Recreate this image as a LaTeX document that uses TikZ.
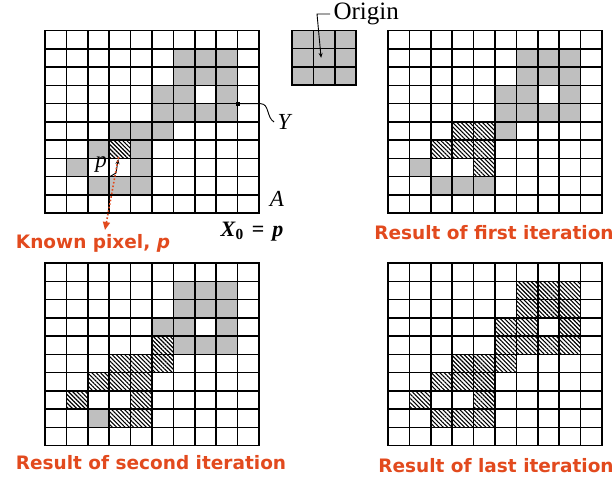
\documentclass[tikz,border=0pt]{standalone}
\usepackage{fontspec}
\setmainfont{Liberation Serif}
\newfontfamily\capfont{DejaVu Sans}
\usetikzlibrary{arrows.meta,patterns.meta}

\definecolor{capred}{RGB}{226,74,30}

% cell size in pixels
\newcommand{\cw}{21.4}
\newcommand{\ch}{18.25}
% the pixels of Y, as column/row
\newcommand{\yset}{6/1,7/1,8/1,6/2,7/2,8/2,5/3,6/3,8/3,5/4,6/4,7/4,8/4,3/5,4/5,5/5,2/6,3/6,4/6,1/7,4/7,2/8,3/8,4/8}
% 10 x 10 lattice of lines
\newcommand{\latticelines}{%
  \foreach \i in {0,...,10} {
    \draw[gridline] (\i*\cw,0) -- (\i*\cw,10*\ch);
    \draw[gridline] (0,\i*\ch) -- (10*\cw,\i*\ch);
  }}

\tikzset{
  gridline/.style={black, line width=1.5pt, line cap=rect},
  setcell/.style={fill=black!25},
  hatchcell/.style={fill=white, postaction={pattern={Lines[angle=-45,distance=3pt,line width=1.1pt]}}},
  caption/.style={text=capred, font=\capfont\bfseries\fontsize{18.5}{20}\selectfont},
  symlabel/.style={font=\fontsize{23}{25}\selectfont\itshape},
  pointer/.style={black, line width=0.9pt, -{Stealth[length=5pt,width=4pt]}}
}

\begin{document}
\begin{tikzpicture}[x=1pt, y=-1pt]
  \useasboundingbox (0,0) rectangle (615,476);

  % Set A with Y and the known pixel p
  \begin{scope}[shift={(45,30.7)}]
    \foreach \c/\r in \yset \fill[setcell] (\c*\cw,\r*\ch) rectangle ++(\cw,\ch);
    \fill[hatchcell] (3*\cw,6*\ch) rectangle ++(\cw,\ch);
    \coordinate (seed) at (3.5*\cw,6.5*\ch);
    \coordinate (ymark) at (9*\cw,4*\ch);
    \latticelines
  \end{scope}

  % Structuring element
  \begin{scope}[shift={(292,30.5)}]
    \fill[setcell] (0,0) rectangle (3*\cw,3*\ch);
    \foreach \i in {0,...,3} {
      \draw[gridline] (\i*\cw,0) -- (\i*\cw,3*\ch);
      \draw[gridline] (0,\i*\ch) -- (3*\cw,\i*\ch);
    }
    \coordinate (ocenter) at (1.5*\cw,1.5*\ch);
  \end{scope}

  % First iteration
  \begin{scope}[shift={(388,30.7)}]
    \foreach \c/\r in \yset \fill[setcell] (\c*\cw,\r*\ch) rectangle ++(\cw,\ch);
    \foreach \c/\r in {3/5,4/5,2/6,3/6,4/6,4/7}
      \fill[hatchcell] (\c*\cw,\r*\ch) rectangle ++(\cw,\ch);
    \latticelines
  \end{scope}

  % Second iteration
  \begin{scope}[shift={(45,263)}]
    \foreach \c/\r in \yset \fill[setcell] (\c*\cw,\r*\ch) rectangle ++(\cw,\ch);
    \foreach \c/\r in {5/4,3/5,4/5,5/5,2/6,3/6,4/6,1/7,4/7,3/8,4/8}
      \fill[hatchcell] (\c*\cw,\r*\ch) rectangle ++(\cw,\ch);
    \latticelines
  \end{scope}

  % Last iteration
  \begin{scope}[shift={(388,263)}]
    \foreach \c/\r in \yset \fill[hatchcell] (\c*\cw,\r*\ch) rectangle ++(\cw,\ch);
    \latticelines
  \end{scope}

  % Labels of the sets
  \node[symlabel] (ylabel) at (284,122) {Y};
  \node[symlabel] (alabel) at (277,199) {A};
  \node[font=\fontsize{22}{24}\selectfont\bfseries] (x0label) at (252,232)
    {\textit{X}\textsubscript{0}\hspace{8pt}=\hspace{8pt}\textit{p}};
  \node[symlabel] (plabel) at (101,165) {p};
  \node[anchor=west, font=\fontsize{25}{27}\selectfont] (origin) at (330,14) {Origin};

  % Pointers
  \fill (ymark) ++(-1.5,-2) rectangle ++(4,4);
  \draw[black, line width=0.9pt] (ymark) -- ++(23,0) to[out=0, in=150] (ylabel.west);
  \coordinate (ocorner) at (317,14);
  \draw[pointer] (origin.west) -- (ocorner) -- ([xshift=-3pt]ocenter);
  \coordinate (pbend) at (116,173);
  \draw[pointer, shorten >=10pt] (plabel.south east) -- (pbend) -- (seed);

  % Captions
  \node[caption] (known) at (93,243) {Known pixel, \textit{p}};
  \node[caption] (first) at (494,233) {Result of first iteration};
  \node[caption] (second) at (151,463) {Result of second iteration};
  \node[caption] (last) at (496,466) {Result of last iteration};

  % Red arrow to the caption of p
  \coordinate (tip) at (105,230);
  \draw[capred, line width=1.6pt, dotted, shorten <=8pt,
    -{Triangle[length=8pt,width=7pt]}] (seed) -- (tip);
\end{tikzpicture}
\end{document}
